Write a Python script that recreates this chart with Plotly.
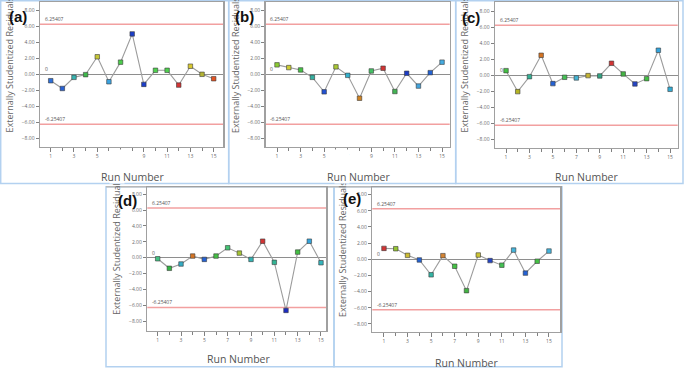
import plotly.graph_objects as go

W, H = 685, 368

# ---------------- data ----------------
run_number = list(range(1, 16))
limit_value = 6.25407

residuals_a = [-0.80, -1.77, -0.38, -0.04, 2.19, -0.93, 1.52, 5.05, -1.26, 0.50, 0.50, -1.35, 1.01, 0.00, -0.55]
residuals_b = [1.18, 0.84, 0.55, -0.38, -2.19, 0.93, -0.13, -2.99, 0.42, 0.76, -2.15, 0.13, -1.47, 0.21, 1.52]
residuals_c = [0.58, -2.04, -0.17, 2.50, -1.04, -0.25, -0.33, -0.04, -0.08, 1.50, 0.17, -1.08, -0.42, 3.13, -1.75]
residuals_d = [-0.13, -1.33, -0.79, 0.21, -0.21, 0.21, 1.25, 0.58, -0.21, 2.08, -0.58, -6.63, 0.71, 2.08, -0.63]
residuals_e = [1.35, 1.31, 0.49, -0.08, -1.92, 0.45, -0.86, -3.88, 0.53, -0.16, -0.73, 1.14, -1.71, -0.24, 1.02]

panel_labels = ["(a)", "(b)", "(c)", "(d)", "(e)"]
x_title = "Run Number"
y_title = "Externally Studentized Residuals"
y_tick_values = [-8, -6, -4, -2, 0, 2, 4, 6, 8]
x_tick_values = [1, 3, 5, 7, 9, 11, 13, 15]
x_minor_values = [2, 4, 6, 8, 10, 12, 14]

# ---------------- point colours (style) ----------------
colors_a = ["#2d6fd8", "#2a62d2", "#36b4b0", "#3fb84c", "#c6c637", "#3ba3e0", "#4ccc4c", "#1c3ec9",
            "#1c3ec9", "#4fd04f", "#4fd04f", "#d33434", "#d8c830", "#b4b434", "#e25424"]
colors_b = ["#8ccc34", "#cccc34", "#44c044", "#34b0a0", "#2352d2", "#aac834", "#34b0cc", "#d08424",
            "#44c064", "#d23434", "#44b454", "#1c3cc4", "#44a4dc", "#2462d2", "#44ace2"]
colors_c = ["#44c044", "#b4b424", "#34b094", "#d47424", "#2462d4", "#44c054", "#44b4d4", "#c4b434",
            "#34a484", "#d23434", "#44b444", "#2444c4", "#44c044", "#34a4dc", "#34acd4"]
colors_d = ["#44c084", "#34b444", "#34acc4", "#d47424", "#2462d4", "#44c044", "#44c474", "#a4c434",
            "#34b4b4", "#d23434", "#34b494", "#1c2cc4", "#44c044", "#34a4dc", "#34b4bc"]
colors_e = ["#d23434", "#94c434", "#ccbc34", "#2462d4", "#34b4a4", "#d48434", "#44c044", "#44b444",
            "#ccc434", "#2444c4", "#44c054", "#44b4dc", "#2462d4", "#44c044", "#44b4dc"]

series = [residuals_a, residuals_b, residuals_c, residuals_d, residuals_e]
colors = [colors_a, colors_b, colors_c, colors_d, colors_e]

# ---------------- layout geometry (pixels) ----------------
panels = [
    dict(px=(40.0, 223.0), py=(2.0, 146.7), xr=(0.08, 15.80), yr=(-9.05, 9.04),
         lab=(17.5, 16.5), xt=(132, 177), yt=(8.5, 135), frame=(0.7, 0.7, 228.7, 183.5)),
    dict(px=(265.7, 449.7), py=(2.0, 146.7), xr=(0.04, 15.65), yr=(-9.05, 9.04),
         lab=(244, 16.5), xt=(358.7, 177), yt=(235, 135), frame=(228.7, 0.7, 455.7, 183.5)),
    dict(px=(495.0, 677.7), py=(2.0, 147.7), xr=(0.06, 15.65), yr=(-9.05, 9.16),
         lab=(471.5, 17), xt=(586, 177), yt=(463.5, 135), frame=(455.7, 0.7, 683.0, 183.5)),
    dict(px=(147.3, 326.0), py=(187.3, 330.7), xr=(0.11, 15.43), yr=(-9.18, 8.86),
         lab=(127.5, 200), xt=(238, 359), yt=(117, 316.7), frame=(106.0, 186.7, 334.0, 366.8)),
    dict(px=(372.3, 560.3), py=(187.3, 331.7), xr=(0.01, 15.96), yr=(-8.96, 8.91),
         lab=(352, 198.5), xt=(466, 362.5), yt=(342, 319), frame=(334.0, 186.7, 562.0, 366.8)),
]

FONT = "Open Sans, Arial, sans-serif"
TICK_COL = "#6a6a6a"
AXIS_COL = "#a0a0a0"
FRAME_COL = "#b3d1f0"
LIMIT_COL = "#f2a0a0"


def fx(p):
    return p / W


def fy(p):
    return 1 - p / H


fig = go.Figure()
layout = dict(width=W, height=H, margin=dict(l=0, r=0, t=0, b=0, pad=0),
              paper_bgcolor="white", plot_bgcolor="white", showlegend=False)
shapes = []
ann_titles = []
ann_masks = []
ann_other = []

for i, (p, ys, cs) in enumerate(zip(panels, series, colors), start=1):
    xa = "xaxis" if i == 1 else f"xaxis{i}"
    ya = "yaxis" if i == 1 else f"yaxis{i}"
    xr_ = "x" if i == 1 else f"x{i}"
    yr_ = "y" if i == 1 else f"y{i}"

    fig.add_trace(go.Scatter(
        x=run_number, y=ys, mode="lines+markers", xaxis=xr_, yaxis=yr_,
        line=dict(color="#9c9c9c", width=1.1),
        marker=dict(symbol="square", size=4.5, color=cs, line=dict(color="#3a3a3a", width=0.6)),
        hoverinfo="skip", showlegend=False))

    layout[xa] = dict(
        domain=[fx(p["px"][0]), fx(p["px"][1])], range=list(p["xr"]), anchor=yr_,
        tickmode="array", tickvals=x_tick_values, ticktext=[str(v) for v in x_tick_values],
        ticks="outside", ticklen=4, tickwidth=1, tickcolor="#808080",
        tickfont=dict(family=FONT, size=5, color=TICK_COL),
        minor=dict(tickmode="array", tickvals=x_minor_values, ticks="outside",
                   ticklen=3, tickwidth=1, tickcolor="#808080"),
        showline=True, mirror=True, linecolor=AXIS_COL, linewidth=1.5,
        showgrid=False, zeroline=False, fixedrange=True)
    layout[ya] = dict(
        domain=[fy(p["py"][1]), fy(p["py"][0])], range=list(p["yr"]), anchor=xr_,
        tickmode="array", tickvals=y_tick_values, tickformat=".2f",
        ticks="outside", ticklen=3, tickwidth=1, tickcolor="#808080",
        tickfont=dict(family=FONT, size=5, color=TICK_COL),
        showline=True, mirror=True, linecolor=AXIS_COL, linewidth=1.5,
        showgrid=False, zeroline=True, zerolinecolor="#8e8e8e", zerolinewidth=1.5,
        fixedrange=True)

    # control limits
    for v in (limit_value, -limit_value):
        shapes.append(dict(type="line", xref=f"{xr_} domain", yref=yr_, x0=0, x1=1, y0=v, y1=v,
                           line=dict(color=LIMIT_COL, width=1.5), layer="below"))
        ann_other.append(dict(xref=f"{xr_} domain", yref=yr_, x=0.015, y=v, xanchor="left",
                              yanchor="bottom", yshift=0, text=f"{v:.5f}", showarrow=False,
                              font=dict(family=FONT, size=5, color="#555555")))
    ann_other.append(dict(xref=f"{xr_} domain", yref=yr_, x=0.015, y=0, xanchor="left",
                          yanchor="bottom", text="0", showarrow=False,
                          font=dict(family=FONT, size=5, color="#555555")))

    # panel frame
    fx0, fy0, fx1, fy1 = p["frame"]
    shapes.append(dict(type="rect", xref="paper", yref="paper", x0=fx(fx0), x1=fx(fx1),
                       y0=fy(fy1), y1=fy(fy0), line=dict(color=FRAME_COL, width=1.5),
                       fillcolor="rgba(0,0,0,0)", layer="below"))

    # titles
    ann_titles.append(dict(xref="paper", yref="paper", x=fx(p["yt"][0]), y=fy(p["yt"][1]),
                           xanchor="center", yanchor="bottom", textangle=-90, text=y_title,
                           showarrow=False, font=dict(family=FONT, size=9, color="#666666")))
    if i >= 4:
        ann_masks.append(dict(xref="paper", yref="paper", x=fx(p["yt"][0]), y=fy(166),
                              xanchor="center", yanchor="middle", text=" ", width=14, height=33,
                              bgcolor="white", borderpad=0, showarrow=False,
                              font=dict(size=4)))
    ann_other.append(dict(xref="paper", yref="paper", x=fx(p["xt"][0]), y=fy(p["xt"][1]),
                          xanchor="center", yanchor="middle", text=x_title, showarrow=False,
                          font=dict(family=FONT, size=10.5, color="#555555")))
    ann_other.append(dict(xref="paper", yref="paper", x=fx(p["lab"][0]), y=fy(p["lab"][1]),
                          xanchor="center", yanchor="middle", text=f"<b>{panel_labels[i-1]}</b>",
                          showarrow=False, font=dict(family="Arial, Liberation Sans, sans-serif",
                                                     size=15, color="#111111")))

# gray top edge of the lower row
shapes.append(dict(type="line", xref="paper", yref="paper", x0=fx(106), x1=fx(562),
                   y0=fy(186.7), y1=fy(186.7), line=dict(color="#b8b8b8", width=1.5), layer="below"))

layout["shapes"] = shapes
layout["annotations"] = ann_titles + ann_masks + ann_other
fig.update_layout(**layout)
fig.write_html("out.html", config={"displayModeBar": False, "staticPlot": True})

# remove the browser's default page margin so the 685x368 figure fills the window exactly
with open("out.html", "r", encoding="utf-8") as f:
    html = f.read()
html = html.replace("<head>", "<head><style>html,body{margin:0;padding:0;overflow:hidden;}</style>", 1)
with open("out.html", "w", encoding="utf-8") as f:
    f.write(html)
